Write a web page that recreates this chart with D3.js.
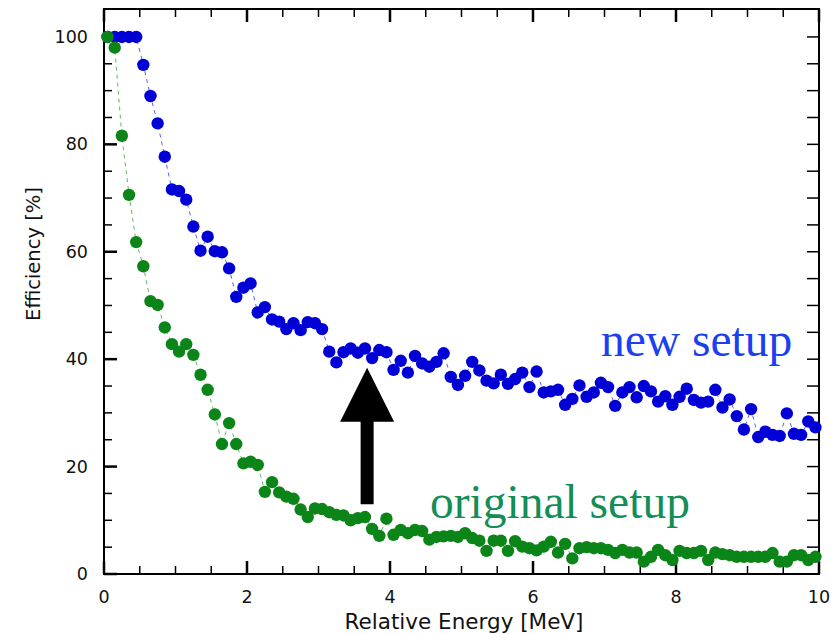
<!DOCTYPE html>
<head>
	<meta charset="utf-8">
	<!-- Load d3.js -->
	<script src="https://d3js.org/d3.v7.min.js"></script>
	<style>
		body { margin: 0; background: #fff; }
		.tick-label { font-family: "DejaVu Sans", sans-serif; font-size: 17.5px; fill: #111; }
		.axis-title { font-family: "DejaVu Sans", sans-serif; font-size: 21.5px; fill: #111; }
		.y-title { font-family: "DejaVu Sans", sans-serif; font-size: 19.5px; fill: #111; }
		.setup-label { font-family: "Liberation Serif", "Times New Roman", serif; font-size: 47.5px; }
	</style>
</head>
<body>
	<svg id="chart" width="838" height="634"></svg>
	<script>

	// energy bins, 0.1 MeV wide, centred on 0.05 ... 9.95
	var energy = d3.range(100).map(function(i) { return +(0.05 + 0.1 * i).toFixed(2); });

	// efficiency of the new setup [%]
	var newSetup = [
		100, 100, 100, 100, 100, 94.8, 89.0, 83.9, 77.7, 71.6,
		71.3, 69.7, 64.7, 60.2, 62.8, 60.1, 59.9, 56.9, 51.6, 53.3,
		54.1, 48.7, 49.7, 47.4, 47.0, 45.6, 46.7, 45.4, 46.9, 46.7,
		45.6, 41.4, 39.4, 41.3, 42.0, 41.2, 42.0, 40.2, 41.7, 41.3,
		38.0, 39.7, 37.5, 40.6, 39.2, 38.6, 39.5, 41.1, 36.7, 35.2,
		36.9, 39.5, 37.9, 36.0, 35.5, 37.1, 35.4, 36.3, 37.5, 34.8,
		37.7, 33.8, 34.0, 34.3, 31.5, 32.6, 35.1, 33.0, 33.8, 35.6,
		34.8, 31.3, 33.8, 34.8, 32.9, 35.0, 34.0, 32.1, 33.1, 31.5,
		33.0, 34.5, 32.4, 31.9, 32.1, 34.3, 31.0, 32.5, 29.4, 26.9,
		30.7, 25.5, 26.5, 25.9, 25.7, 29.9, 26.1, 25.9, 28.4, 27.3
	];

	// efficiency of the original setup [%]
	var originalSetup = [
		100, 98.0, 81.6, 70.6, 61.8, 57.3, 50.8, 50.1, 45.9, 42.8,
		41.4, 42.8, 40.8, 37.1, 34.3, 29.7, 24.2, 28.1, 24.2, 20.6,
		20.9, 20.3, 15.3, 17.1, 15.2, 14.4, 14.0, 12.0, 10.6, 12.2,
		12.1, 11.5, 11.0, 10.9, 10.0, 10.4, 10.6, 8.4, 7.1, 10.3,
		7.3, 8.2, 7.6, 8.2, 8.0, 6.4, 6.9, 7.0, 7.1, 6.9,
		7.6, 6.7, 6.2, 4.3, 6.2, 6.2, 4.3, 6.1, 5.1, 4.8,
		4.4, 5.1, 6.0, 4.0, 5.6, 2.9, 4.8, 5.0, 4.8, 4.8,
		4.5, 3.9, 4.5, 4.0, 4.0, 2.3, 3.2, 4.5, 3.5, 2.6,
		4.3, 3.9, 3.9, 4.3, 2.6, 4.0, 3.7, 3.5, 3.2, 3.2,
		3.2, 3.2, 3.2, 3.9, 2.3, 2.3, 3.5, 3.5, 2.6, 3.2
	];

	var xTicks = [0, 2, 4, 6, 8, 10];
	var yTicks = [0, 20, 40, 60, 80, 100];

	// arrow from the original to the new curve
	var arrowAt = 3.68, arrowFrom = 13.0, arrowTo = 38.4;

	var svg = d3.select("#chart");
	var plotLeft = 104, plotRight = 819, plotTop = 9, plotBottom = 574;

	var x = d3.scaleLinear().domain([0, 10]).range([plotLeft, plotRight]);
	var y = d3.scaleLinear().domain([0, 105.2]).range([plotBottom, plotTop]);

	var blue = "#0000d6", blueText = "#1a40f0";
	var green = "#0b8418", greenText = "#138e56";

	// frame
	svg.append("rect")
		.attr("x", plotLeft).attr("y", plotTop)
		.attr("width", plotRight - plotLeft).attr("height", plotBottom - plotTop)
		.attr("fill", "none").attr("stroke", "#000").attr("stroke-width", 2);

	// inward ticks on all four sides
	var ticks = svg.append("g").attr("stroke", "#000");
	d3.range(0, 10.01, 0.5).forEach(function(v) {
		var major = Math.abs(v % 2) < 1e-6;
		var len = major ? 13 : 8;
		ticks.append("line")
			.attr("x1", x(v)).attr("x2", x(v))
			.attr("y1", plotBottom).attr("y2", plotBottom - len)
			.attr("stroke-width", major ? 2.5 : 1.5);
		ticks.append("line")
			.attr("x1", x(v)).attr("x2", x(v))
			.attr("y1", plotTop).attr("y2", plotTop + len)
			.attr("stroke-width", major ? 2.5 : 1.5);
	});
	d3.range(0, 105, 5).forEach(function(v) {
		var major = v % 20 === 0;
		ticks.append("line")
			.attr("x1", plotLeft).attr("x2", plotLeft + (major ? 13 : 8))
			.attr("y1", y(v)).attr("y2", y(v))
			.attr("stroke-width", major ? 2.5 : 1.5);
		ticks.append("line")
			.attr("x1", plotRight).attr("x2", plotRight - 12)
			.attr("y1", y(v)).attr("y2", y(v))
			.attr("stroke-width", 1.5);
	});

	// tick labels
	svg.append("g").selectAll("text")
		.data(xTicks)
		.enter()
		.append("text")
		.attr("class", "tick-label")
		.attr("x", function(d) { return x(d); })
		.attr("y", 603)
		.attr("text-anchor", "middle")
		.text(function(d) { return d; });

	svg.append("g").selectAll("text")
		.data(yTicks)
		.enter()
		.append("text")
		.attr("class", "tick-label")
		.attr("x", 88)
		.attr("y", function(d) { return y(d) + 6; })
		.attr("text-anchor", "end")
		.text(function(d) { return d; });

	// axis titles
	svg.append("text")
		.attr("class", "axis-title")
		.attr("x", 464).attr("y", 629)
		.attr("text-anchor", "middle")
		.text("Relative Energy [MeV]");

	svg.append("text")
		.attr("class", "y-title")
		.attr("transform", "translate(40,254) rotate(-90)")
		.attr("text-anchor", "middle")
		.text("Efficiency [%]");

	// dashed guide lines, then the points
	var series = [
		{ values: newSetup, color: blue, dash: "#5860ee" },
		{ values: originalSetup, color: green, dash: "#5fb866" }
	];

	var line = d3.line()
		.x(function(d) { return x(d[0]); })
		.y(function(d) { return y(d[1]); });

	series.forEach(function(s) {
		var pts = energy.map(function(e, i) { return [e, s.values[i]]; });
		svg.append("path")
			.datum(pts)
			.attr("d", line)
			.attr("fill", "none")
			.attr("stroke", s.dash)
			.attr("stroke-width", 1)
			.attr("stroke-dasharray", "4,4");
		svg.append("g")
			.selectAll("circle")
			.data(pts)
			.enter()
			.append("circle")
			.attr("cx", function(d) { return x(d[0]); })
			.attr("cy", function(d) { return y(d[1]); })
			.attr("r", 6.2)
			.attr("fill", s.color);
	});

	// arrow
	var ax = x(arrowAt), half = 6.5, head = 27, headLen = 54;
	var yTip = y(arrowTo), yBase = y(arrowFrom);
	svg.append("path")
		.attr("d", "M" + (ax - half) + "," + yBase +
			"L" + (ax - half) + "," + (yTip + headLen) +
			"L" + (ax - head) + "," + (yTip + headLen) +
			"L" + ax + "," + yTip +
			"L" + (ax + head) + "," + (yTip + headLen) +
			"L" + (ax + half) + "," + (yTip + headLen) +
			"L" + (ax + half) + "," + yBase + "Z")
		.attr("fill", "#000");

	// series labels
	svg.append("text")
		.attr("class", "setup-label")
		.attr("x", 601).attr("y", 356)
		.attr("fill", blueText)
		.text("new setup");

	svg.append("text")
		.attr("class", "setup-label")
		.attr("x", 430).attr("y", 518)
		.attr("fill", greenText)
		.text("original setup");

</script>
</body>
</html>
